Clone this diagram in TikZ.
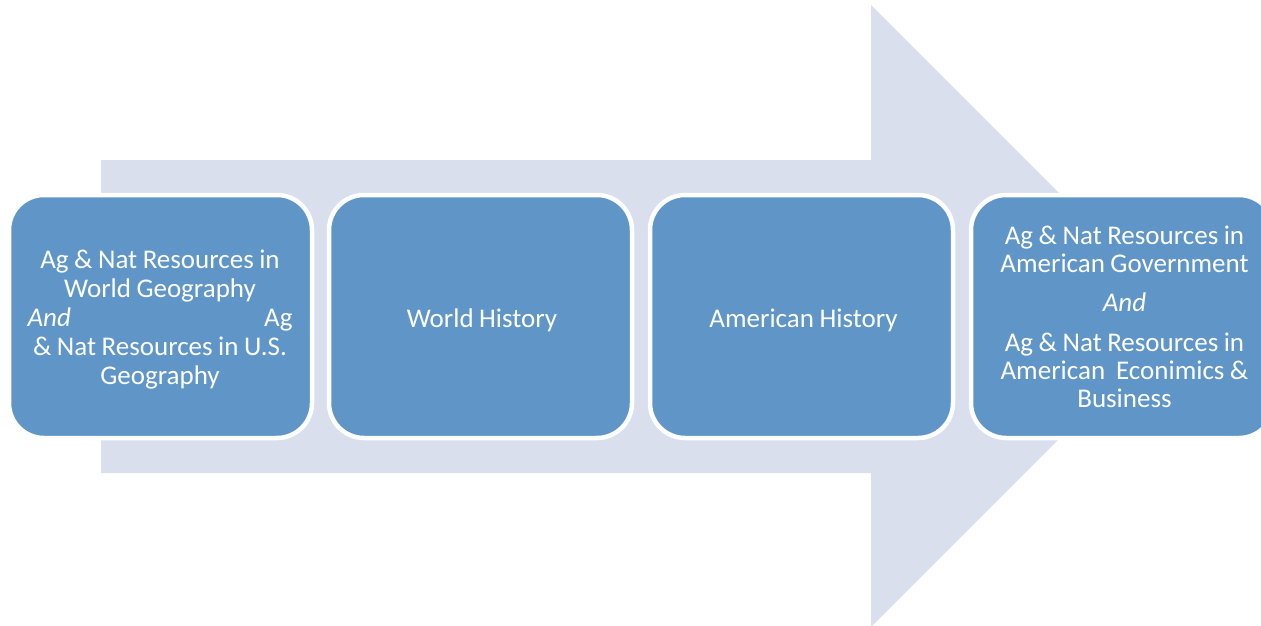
\documentclass[tikz,border=0pt]{standalone}
\usepackage{fontspec}
\setmainfont[WordSpace=0.9]{Carlito}
\definecolor{boxblue}{RGB}{96,150,199}
\definecolor{arrowgray}{RGB}{217,223,236}
\begin{document}
\begin{tikzpicture}[x=1pt,y=-1pt,
  stagebox/.style={draw=white, line width=4.5pt, fill=boxblue, rounded corners=35pt,
    minimum width=303pt, minimum height=243pt, inner sep=0pt},
  stagetext/.style={text=white, align=center, inner sep=0pt, font=\fontsize{27}{29}\selectfont},
]
\useasboundingbox (0,0) rectangle (1261,626);
\clip (0,0) rectangle (1261,626);
\fill[arrowgray] (101,160) -- (871,160) -- (871,5) -- (1182,316) -- (871,627) -- (871,473) -- (101,473) -- cycle;
\node[stagebox] (b1) at (160.5,316.5) {};
\node[stagetext] (t1) at (160,319.5) {Ag \& Nat Resources in\\ World Geography\\ \makebox[265pt]{\textit{And}\hfill Ag}\\ \& Nat Resources in U.S.\\ Geography};
\node[stagebox] (b2) at (480.5,316.5) {};
\node[stagetext] (t2) at (482,320) {World History};
\node[stagebox] (b3) at (801.5,316.5) {};
\node[stagetext] (t3) at (803.5,320) {American History};
\node[stagebox] (b4) at (1122.5,316.5) {};
\node[stagetext, font=\fontsize{27}{28.3}\selectfont] (t4) at (1124.5,317) {Ag \& Nat Resources in\\ American Government\\[10pt] \textit{And}\\[12pt] Ag \& Nat Resources in\\ American\ \ Econimics \&\\ Business};
\end{tikzpicture}
\end{document}
